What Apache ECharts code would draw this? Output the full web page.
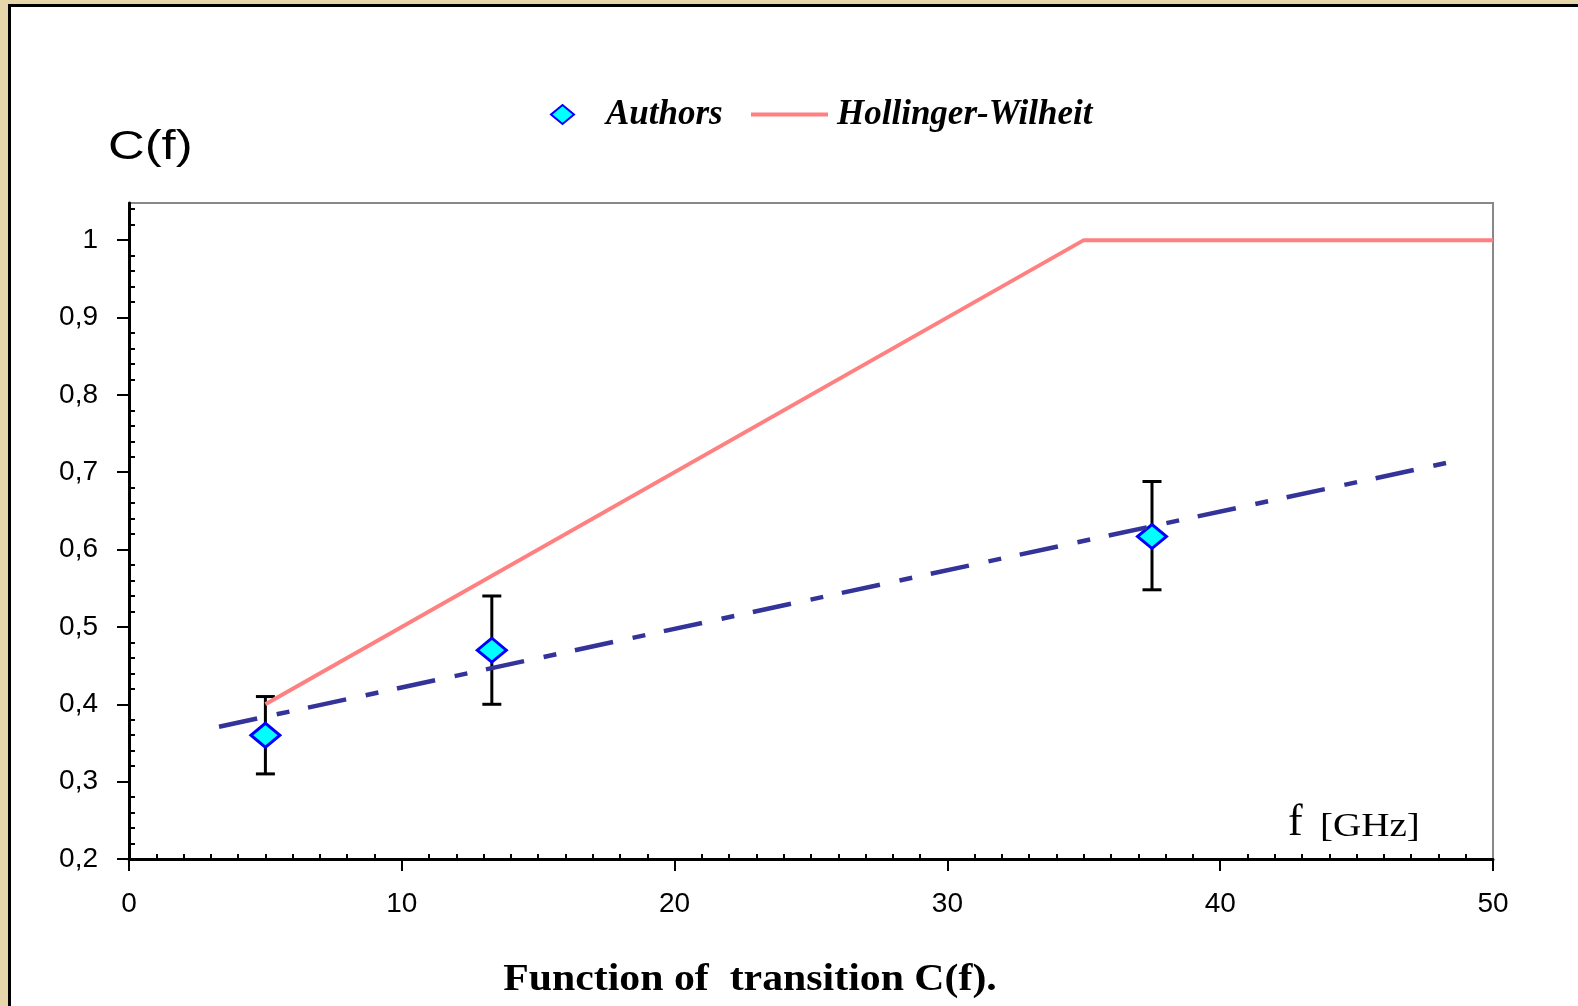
<!DOCTYPE html>
<html><head><meta charset="utf-8">
<script src="https://cdn.jsdelivr.net/npm/echarts@6/dist/echarts.min.js"></script>
<style>
html,body{margin:0;padding:0;width:1578px;height:1006px;overflow:hidden;background:#E7D6AA;}
#frame{position:absolute;left:8px;top:4px;right:-10px;bottom:-10px;background:#fff;border-left:3px solid #000;border-top:3px solid #000;}
#chart{position:absolute;left:0;top:0;width:1578px;height:1006px;}
</style></head><body><div id="frame"></div><div id="chart"></div>
<script>
// Authors measurements
const authorsF = [5, 13.3, 37.5];
const authorsC = [0.36, 0.47, 0.617];
const errLow = [0.31, 0.40, 0.548];
const errHigh = [0.41, 0.54, 0.688];
// Hollinger-Wilheit model
const hwF = [5, 35, 50];
const hwC = [0.40, 1.0, 1.0];
// fitted dash-dot line
const fitF = [3.3, 48.3];
const fitC = [0.371, 0.712];
// axis ticks
const xTicks = [0, 10, 20, 30, 40, 50];
const yTicks = [0.2, 0.3, 0.4, 0.5, 0.6, 0.7, 0.8, 0.9, 1.0];

const chart = echarts.init(document.getElementById('chart'), null, {renderer: 'canvas'});
const fmtY = v => (Math.abs(v - 1) < 1e-9 ? '1' : v.toFixed(1).replace('.', ','));
const legendText = {fontFamily: 'Liberation Serif', fontSize: 35, fontWeight: 'bold', fontStyle: 'italic', color: '#000'};

const option = {
  backgroundColor: 'transparent',
  animation: false,
  grid: {left: 129, top: 203, width: 1364, height: 656, show: true, borderColor: '#888', borderWidth: 2, backgroundColor: 'transparent'},
  legend: [
    {data: ['Authors'], left: 550, top: 97, padding: 0, itemWidth: 23, itemHeight: 19,
     textStyle: Object.assign({padding: [0, 0, 0, 27]}, legendText)},
    {data: [{name: 'Hollinger-Wilheit', icon: 'rect'}], left: 751, top: 97, padding: 0, itemWidth: 77, itemHeight: 4,
     textStyle: Object.assign({padding: [0, 0, 0, 4]}, legendText)}
  ],
  xAxis: {
    type: 'value', min: xTicks[0], max: xTicks[xTicks.length - 1], interval: 10,
    splitLine: {show: false},
    axisLine: {show: true, lineStyle: {color: '#000', width: 3}},
    axisTick: {show: true, length: 12, lineStyle: {color: '#000', width: 2}},
    minorTick: {show: true, splitNumber: 10, length: -5, lineStyle: {color: '#000', width: 2}},
    axisLabel: {margin: 31, fontFamily: 'Liberation Sans', fontSize: 28, color: '#000'}
  },
  yAxis: {
    type: 'value', min: 0.2, max: 1.048, interval: 0.1,
    splitLine: {show: false},
    axisLine: {show: true, lineStyle: {color: '#000', width: 3}},
    axisTick: {show: true, length: 12, customValues: yTicks, lineStyle: {color: '#000', width: 2}},
    minorTick: {show: true, splitNumber: 5, length: -6, lineStyle: {color: '#000', width: 2}},
    axisLabel: {margin: 31, customValues: yTicks, formatter: fmtY, fontFamily: 'Liberation Sans', fontSize: 28, color: '#000'}
  },
  series: [
    {
      type: 'custom', name: 'errors', z: 1, silent: true,
      encode: {x: 0, y: [1, 2]},
      data: authorsF.map((f, i) => [f, errLow[i], errHigh[i]]),
      renderItem: function (params, api) {
        const x = api.value(0);
        const pLo = api.coord([x, api.value(1)]);
        const pHi = api.coord([x, api.value(2)]);
        const w = 9.5;
        const st = {stroke: '#000', lineWidth: 3};
        return {type: 'group', children: [
          {type: 'line', shape: {x1: pLo[0], y1: pLo[1], x2: pHi[0], y2: pHi[1]}, style: st},
          {type: 'line', shape: {x1: pLo[0] - w, y1: pLo[1], x2: pLo[0] + w, y2: pLo[1]}, style: st},
          {type: 'line', shape: {x1: pHi[0] - w, y1: pHi[1], x2: pHi[0] + w, y2: pHi[1]}, style: st}
        ]};
      }
    },
    {
      type: 'line', name: 'Hollinger-Wilheit', z: 2,
      data: hwF.map((f, i) => [f, hwC[i]]),
      symbol: 'none', showSymbol: false,
      lineStyle: {color: '#FF8080', width: 4},
      itemStyle: {color: '#FF8080'}
    },
    {
      type: 'scatter', name: 'Authors', z: 3,
      data: authorsF.map((f, i) => [f, authorsC[i]]),
      symbol: 'diamond', symbolSize: [29, 24],
      itemStyle: {color: '#00FFFF', borderColor: '#0000FF', borderWidth: 3, opacity: 1}
    },
    {
      type: 'line', name: 'fit', z: 4, silent: true,
      data: fitF.map((f, i) => [f, fitC[i]]),
      symbol: 'none', showSymbol: false,
      lineStyle: {color: '#333399', width: 4.5, type: [39, 20, 13, 19], cap: 'butt'}
    }
  ],
  graphic: [
    {type: 'text', x: 108, y: 148, scaleX: 1.27, style: {text: 'C(f)', fontFamily: 'Liberation Sans', fontSize: 40, fill: '#000', align: 'left', verticalAlign: 'middle'}},
    {type: 'text', x: 1288, y: 823, style: {text: 'f', fontFamily: 'Liberation Serif', fontSize: 44, fill: '#000', align: 'left', verticalAlign: 'middle'}},
    {type: 'text', x: 1320, y: 827, scaleX: 1.15, style: {text: '[GHz]', fontFamily: 'Liberation Serif', fontSize: 34, fill: '#000', align: 'left', verticalAlign: 'middle'}},
    {type: 'text', x: 750, y: 980, scaleX: 1.13, style: {text: 'Function of  transition C(f).', fontFamily: 'Liberation Serif', fontSize: 37, fontWeight: 'bold', fill: '#000', align: 'center', verticalAlign: 'middle'}}
  ]
};
chart.setOption(option);
</script></body></html>
